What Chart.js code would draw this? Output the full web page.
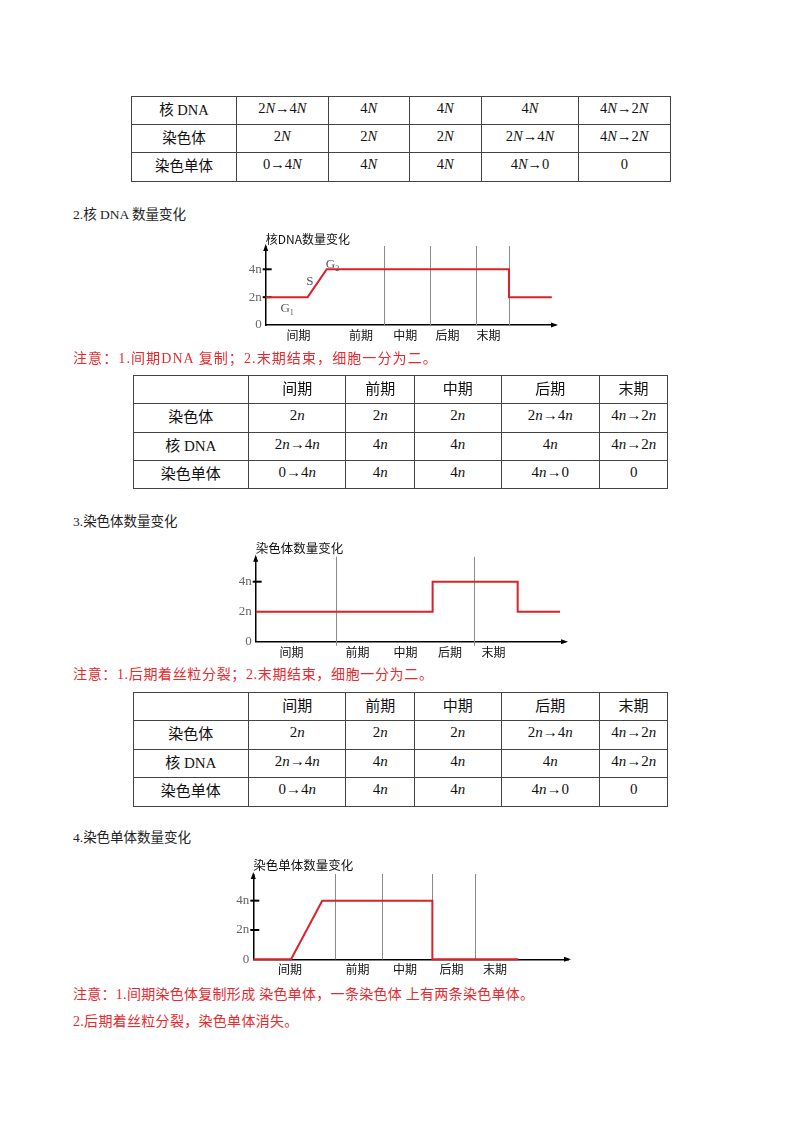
<!DOCTYPE html>
<html>
<head>
<meta charset="utf-8">
<script src="https://cdn.jsdelivr.net/npm/chart.js@4.4.1/dist/chart.umd.min.js"></script>
<style>
  body { margin: 0; background: #fff; }
  #page { position: relative; width: 800px; height: 1132px; overflow: hidden;
          font-family: "Liberation Serif", "Noto Sans CJK SC", serif; }
  .txt { position: absolute; left: 73px; white-space: nowrap; line-height: 20px; height: 20px; }
  .head { font-size: 13.5px; color: #222; }
  .note { font-size: 14px; color: #e8292d; }
  table { position: absolute; border-collapse: collapse; table-layout: fixed; color: #111; }
  td { border: 1px solid #444; text-align: center; vertical-align: middle;
       padding: 0 0 4px 0; white-space: nowrap; overflow: hidden; }
  .t1 td { font-size: 14.5px; }
  .t2 td { font-size: 15px; }
  canvas { position: absolute; }
</style>
</head>
<body>
<div id="page">
  <table id="tab1" class="t1" style="left:131px;top:95.5px;"></table>

  <div class="txt head" style="top:205px;">2.核 DNA 数量变化</div>
  <canvas id="dnaChart" width="345" height="125" style="left:225px;top:225px;"></canvas>
  <div class="txt note" style="top:349px;letter-spacing:1.1px;">注意：1.间期DNA 复制；2.末期结束，细胞一分为二。</div>
  <table id="tab2" class="t2" style="left:132.5px;top:375px;"></table>

  <div class="txt head" style="top:512px;">3.染色体数量变化</div>
  <canvas id="chromChart" width="365" height="130" style="left:215px;top:535px;"></canvas>
  <div class="txt note" style="top:665px;letter-spacing:0.65px;">注意：1.后期着丝粒分裂；2.末期结束，细胞一分为二。</div>
  <table id="tab3" class="t2" style="left:132.5px;top:691.5px;"></table>

  <div class="txt head" style="top:828px;">4.染色单体数量变化</div>
  <canvas id="chromatidChart" width="370" height="130" style="left:213px;top:850px;"></canvas>
  <div class="txt note" style="top:985px;letter-spacing:0.28px;">注意：1.间期染色体复制形成 染色单体，一条染色体 上有两条染色单体。</div>
  <div class="txt note" style="top:1012px;letter-spacing:0.3px;">2.后期着丝粒分裂，染色单体消失。</div>
</div>

<script>
// ---- data ----
const phases = ["间期", "前期", "中期", "后期", "末期"];
const yTickValues = [0, 2, 4];
const yTickNames = ["0", "2n", "4n"];

// 核DNA数量变化 (x = time along the cycle, 0-100)
const dnaX = [0, 14.5, 21.1, 84.1, 84.1, 98.9];
const dnaY = [2, 2, 4, 4, 2, 2];
const dnaPhaseLines = [40.9, 56.8, 72.7, 84.1];
const dnaLabelX = [11.3, 32.9, 48.2, 62.8, 77.0];
const dnaNoteText = ["G", "S", "G"];
const dnaNoteSub = ["1", "", "2"];
const dnaNoteX = [6.7, 15.3, 22.4];
const dnaNoteY = [1.15, 3.1, 4.35];

// 染色体数量变化
const chromX = [0, 57.2, 57.2, 84.7, 84.7, 98.4];
const chromY = [2, 2, 4, 4, 2, 2];
const chromPhaseLines = [26.0, 70.6];
const chromLabelX = [11.6, 32.9, 48.4, 62.8, 76.9];

// 染色单体数量变化
const chromatidX = [0, 12.0, 21.9, 56.9, 56.9, 84.2];
const chromatidY = [0, 0, 4, 4, 0, 0];
const chromatidPhaseLines = [26.0, 41.0, 56.9, 70.4];
const chromatidLabelX = [11.7, 33.1, 48.2, 63.0, 76.8];

// tables
const t1RowNames = ["核 DNA", "染色体", "染色单体"];
const t1Cells = [
  ["2N→4N", "4N", "4N", "4N", "4N→2N"],
  ["2N", "2N", "2N", "2N→4N", "4N→2N"],
  ["0→4N", "4N", "4N", "4N→0", "0"]
];
const t1ColW = [105, 91.6, 81, 72.4, 97, 91.6];

const tHead = ["", "间期", "前期", "中期", "后期", "末期"];
const tRowNames = ["染色体", "核 DNA", "染色单体"];
const tCells = [
  ["2n", "2n", "2n", "2n→4n", "4n→2n"],
  ["2n→4n", "4n", "4n", "4n", "4n→2n"],
  ["0→4n", "4n", "4n", "4n→0", "0"]
];
const tColW = [115.6, 97.4, 68.3, 87, 98, 68.7];

// ---- tables ----
function ital(s) { return s.replace(/([Nn])/g, "<i>$1</i>"); }

function buildTable(id, colW, rowH, head, names, cells) {
  const tab = document.getElementById(id);
  let html = "<colgroup>" + colW.map(w => `<col style="width:${w}px">`).join("") + "</colgroup>";
  if (head) html += `<tr style="height:${rowH}px">` + head.map(h => `<td>${h}</td>`).join("") + "</tr>";
  names.forEach((n, i) => {
    html += `<tr style="height:${rowH}px"><td>${n}</td>` + cells[i].map(c => `<td>${ital(c)}</td>`).join("") + "</tr>";
  });
  tab.style.width = colW.reduce((a, b) => a + b, 0) + "px";
  tab.innerHTML = html;
}
buildTable("tab1", t1ColW, 28.4, null, t1RowNames, t1Cells);
buildTable("tab2", tColW, 28.3, tHead, tRowNames, tCells);
buildTable("tab3", tColW, 28.5, tHead, tRowNames, tCells);

// ---- charts ----
const RED = "#d9232a";

const extras = {
  id: "extras",
  beforeDatasetsDraw(chart, args, o) {
    const { ctx, chartArea: a, scales: { x, y } } = chart;
    ctx.save();
    ctx.strokeStyle = "#8c8c8c";
    ctx.lineWidth = 1;
    o.phaseLines.forEach(v => {
      const px = Math.round(x.getPixelForValue(v)) + 0.5;
      ctx.beginPath();
      ctx.moveTo(px, a.top - 1);
      ctx.lineTo(px, a.bottom + o.lineDrop);
      ctx.stroke();
    });
    ctx.strokeStyle = "#000";
    ctx.lineWidth = 2;
    o.tickMarks.forEach(v => {
      const py = y.getPixelForValue(v);
      ctx.beginPath();
      ctx.moveTo(a.left - 3, py);
      ctx.lineTo(a.left + 6, py);
      ctx.stroke();
    });
    ctx.restore();
  },
  afterDraw(chart, args, o) {
    const { ctx, chartArea: a, scales: { x, y } } = chart;
    ctx.save();
    ctx.fillStyle = "#000";
    // arrow heads
    ctx.beginPath();
    ctx.moveTo(a.left, a.top - 3);
    ctx.lineTo(a.left - 2.5, a.top + 4);
    ctx.lineTo(a.left + 2.5, a.top + 4);
    ctx.fill();
    ctx.beginPath();
    ctx.moveTo(a.right + 3, a.bottom);
    ctx.lineTo(a.right - 4, a.bottom - 2.5);
    ctx.lineTo(a.right - 4, a.bottom + 2.5);
    ctx.fill();
    // stage notes (G1, S, G2)
    ctx.fillStyle = "#555";
    ctx.textBaseline = "middle";
    (o.noteText || []).forEach((t, i) => {
      const px = x.getPixelForValue(o.noteX[i]);
      const py = y.getPixelForValue(o.noteY[i]);
      ctx.font = '13px "Liberation Serif"';
      ctx.textAlign = "center";
      ctx.fillText(t, px, py);
      if (o.noteSub[i]) {
        const w = ctx.measureText(t).width;
        ctx.font = '8px "Liberation Serif"';
        ctx.textAlign = "left";
        ctx.fillText(o.noteSub[i], px + w / 2, py + 4);
      }
    });
    ctx.restore();
  }
};

function makeChart(id, c) {
  return new Chart(document.getElementById(id), {
    type: "line",
    data: {
      datasets: [{
        data: c.xs.map((v, i) => ({ x: v, y: c.ys[i] })),
        borderColor: RED,
        borderWidth: 2,
        pointRadius: 0,
        tension: 0,
        fill: false,
        clip: false
      }]
    },
    options: {
      responsive: false,
      animation: false,
      devicePixelRatio: 1,
      layout: { padding: { top: c.padTop, right: 15, left: 0, bottom: 0 } },
      plugins: {
        legend: { display: false },
        tooltip: { enabled: false },
        title: {
          display: true,
          text: c.title,
          align: "start",
          fullSize: false,
          color: "#111",
          font: { family: '"Noto Sans CJK SC"', size: c.titleSize, weight: "normal", lineHeight: 1.2 },
          padding: { top: 0, bottom: c.titleGap }
        },
        extras: {
          phaseLines: c.phaseLines,
          lineDrop: c.lineDrop,
          tickMarks: c.tickMarks,
          noteText: c.noteText,
          noteSub: c.noteSub,
          noteX: c.noteX,
          noteY: c.noteY
        }
      },
      scales: {
        x: {
          type: "linear",
          min: 0,
          max: 100,
          afterBuildTicks: s => { s.ticks = c.labelX.map(v => ({ value: v })); },
          afterFit: s => { s.height = c.xAxisH; },
          ticks: {
            autoSkip: false,
            maxRotation: 0,
            padding: c.labelPad,
            color: "#111",
            font: { family: '"Noto Sans CJK SC"', size: 12 },
            callback: (v, i) => phases[i]
          },
          grid: { display: false, drawTicks: false },
          border: { color: "#000", width: 1.5 }
        },
        y: {
          type: "linear",
          min: 0,
          max: c.yMax,
          afterBuildTicks: s => { s.ticks = yTickValues.map(v => ({ value: v })); },
          afterFit: s => { s.width = c.yAxisW; },
          ticks: {
            padding: 4,
            color: "#666",
            font: { family: '"Liberation Serif"', size: 13 },
            callback: (v, i) => yTickNames[i]
          },
          grid: { display: false, drawTicks: false },
          border: { color: "#000", width: 1.5 }
        }
      }
    },
    plugins: [extras]
  });
}

makeChart("dnaChart", {
  title: "核DNA数量变化", titleSize: 12, titleGap: 0, padTop: 7.6,
  xs: dnaX, ys: dnaY, phaseLines: dnaPhaseLines, labelX: dnaLabelX,
  noteText: dnaNoteText, noteSub: dnaNoteSub, noteX: dnaNoteX, noteY: dnaNoteY,
  tickMarks: [2, 4], lineDrop: 0, yMax: 5.6, yAxisW: 40.7, xAxisH: 25, labelPad: 3
});

makeChart("chromChart", {
  title: "染色体数量变化", titleSize: 12.5, titleGap: 2, padTop: 5.7,
  xs: chromX, ys: chromY, phaseLines: chromPhaseLines, labelX: chromLabelX,
  tickMarks: [4], lineDrop: 4, yMax: 5.6, yAxisW: 40.7, xAxisH: 23.3, labelPad: 4
});

makeChart("chromatidChart", {
  title: "染色单体数量变化", titleSize: 12.5, titleGap: 2.5, padTop: 7.5,
  xs: chromatidX, ys: chromatidY, phaseLines: chromatidPhaseLines, labelX: chromatidLabelX,
  tickMarks: [2, 4], lineDrop: 0, yMax: 5.75, yAxisW: 40.3, xAxisH: 20.7, labelPad: 2.5
});
</script>
</body>
</html>
